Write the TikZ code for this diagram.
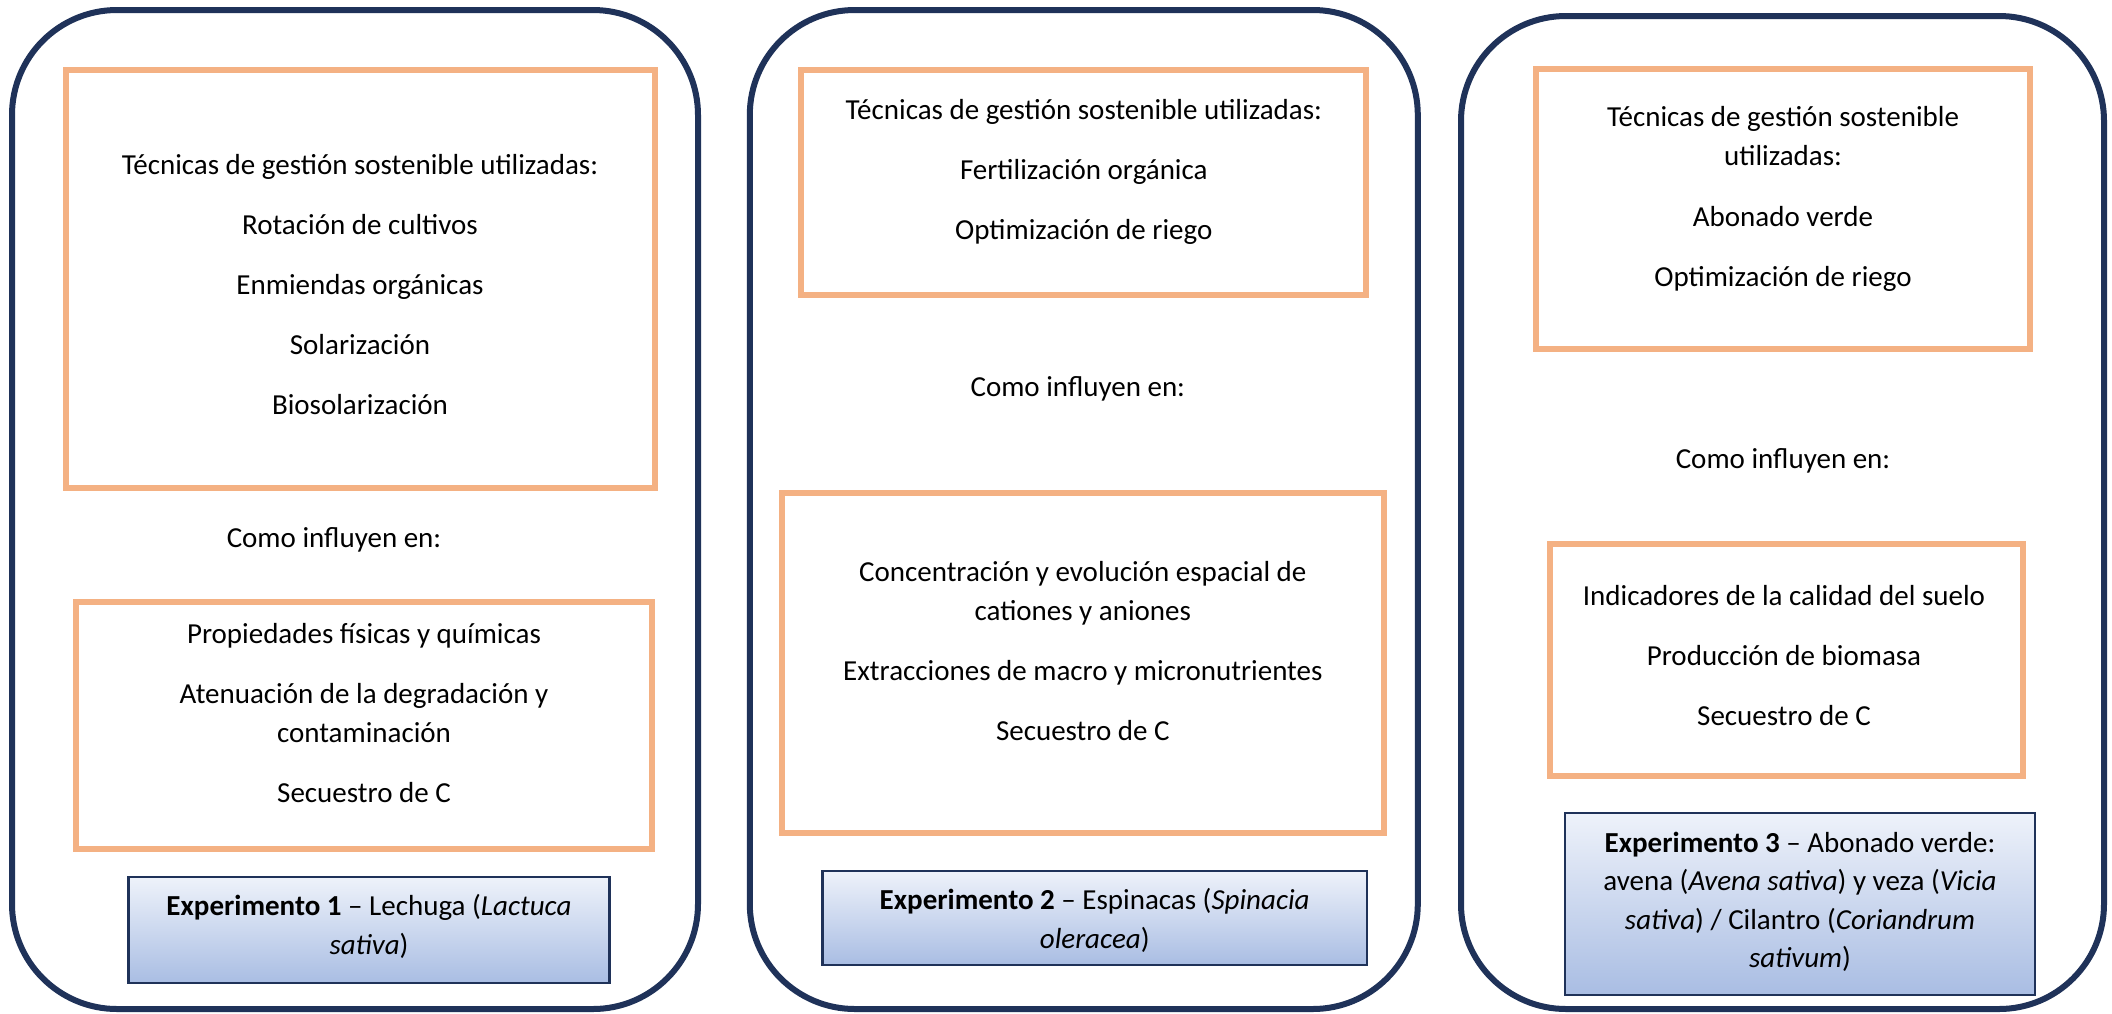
\documentclass[tikz,border=0pt]{standalone}
\usepackage{fontspec}
\setmainfont{Carlito}
\definecolor{navy}{HTML}{1F3259}
\definecolor{peach}{HTML}{F4B183}
\definecolor{bluetop}{HTML}{EEF2FA}
\definecolor{bluebot}{HTML}{A9BDE3}
\begin{document}
\begin{tikzpicture}[x=1pt,y=-1pt,
  panel/.style={draw=navy, line width=6pt, rounded corners=105pt, inner sep=0pt},
  obox/.style={draw=peach, line width=6pt, inner sep=0pt},
  bbox/.style={draw=navy, line width=2.5pt, inner sep=0pt, top color=bluetop, bottom color=bluebot},
  txt/.style={anchor=base, inner sep=0pt, font=\fontsize{29}{38}\selectfont}]
\fill[white] (0,0) rectangle (2112,1013);
\useasboundingbox (0,0) rectangle (2112,1013);

% panels
\node[panel, minimum width=686pt, minimum height=999pt] (p1) at (355,509.5) {};
\node[panel, minimum width=668pt, minimum height=999pt] (p2) at (1083.8,509.5) {};
\node[panel, minimum width=643pt, minimum height=993pt] (p3) at (1782.5,512.5) {};

% orange boxes
\node[obox, minimum width=589.4pt, minimum height=418pt] (o1a) at (360.3,279) {};
\node[obox, minimum width=576.5pt, minimum height=247pt] (o1b) at (363.8,725.5) {};
\node[obox, minimum width=565.6pt, minimum height=225pt] (o2a) at (1083.3,182.5) {};
\node[obox, minimum width=602.4pt, minimum height=340pt] (o2b) at (1082.8,663) {};
\node[obox, minimum width=494pt, minimum height=280pt] (o3a) at (1783,209) {};
\node[obox, minimum width=473pt, minimum height=232pt] (o3b) at (1786.5,660) {};

% blue boxes
\node[bbox, minimum width=481pt, minimum height=106pt] (b1) at (368.8,930) {};
\node[bbox, minimum width=544.7pt, minimum height=94pt] (b2) at (1094.7,918) {};
\node[bbox, minimum width=470pt, minimum height=182pt] (b3) at (1800,904) {};

% panel 1 texts
\node[txt] (t1a1) at (360,174) {Técnicas de gestión sostenible utilizadas:};
\node[txt] (t1a2) at (360,234) {Rotación de cultivos};
\node[txt] (t1a3) at (360,294) {Enmiendas orgánicas};
\node[txt] (t1a4) at (360,354) {Solarización};
\node[txt] (t1a5) at (360,414) {Biosolarización};
\node[txt] (c1) at (334,547) {Como influyen en:};
\node[txt] (t1b1) at (364,643) {Propiedades físicas y químicas};
\node[txt] (t1b2) at (364,703) {Atenuación de la degradación y};
\node[txt] (t1b3) at (364,742) {contaminación};
\node[txt] (t1b4) at (364,802) {Secuestro de C};
\node[txt] (e1a) at (369,915) {\textbf{Experimento 1} – Lechuga (\textit{Lactuca}};
\node[txt] (e1b) at (369,954) {\textit{sativa})};

% panel 2 texts
\node[txt] (t2a1) at (1083.8,119) {Técnicas de gestión sostenible utilizadas:};
\node[txt] (t2a2) at (1083.8,179) {Fertilización orgánica};
\node[txt] (t2a3) at (1083.8,239) {Optimización de riego};
\node[txt] (c2) at (1077.8,396) {Como influyen en:};
\node[txt] (t2b1) at (1082.8,581) {Concentración y evolución espacial de};
\node[txt] (t2b2) at (1082.8,620) {cationes y aniones};
\node[txt] (t2b3) at (1082.8,680) {Extracciones de macro y micronutrientes};
\node[txt] (t2b4) at (1082.8,740) {Secuestro de C};
\node[txt] (e2a) at (1094.7,909) {\textbf{Experimento 2} – Espinacas (\textit{Spinacia}};
\node[txt] (e2b) at (1094.7,948) {\textit{oleracea})};

% panel 3 texts
\node[txt] (t3a1) at (1783,126) {Técnicas de gestión sostenible};
\node[txt] (t3a2) at (1783,165) {utilizadas:};
\node[txt] (t3a3) at (1783,226) {Abonado verde};
\node[txt] (t3a4) at (1783,286) {Optimización de riego};
\node[txt] (c3) at (1783,468) {Como influyen en:};
\node[txt] (t3b1) at (1784,605) {Indicadores de la calidad del suelo};
\node[txt] (t3b2) at (1784,665) {Producción de biomasa};
\node[txt] (t3b3) at (1784,725) {Secuestro de C};
\node[txt] (e3a) at (1800,852) {\textbf{Experimento 3} – Abonado verde:};
\node[txt] (e3b) at (1800,890) {avena (\textit{Avena sativa}) y veza (\textit{Vicia}};
\node[txt] (e3c) at (1800,929) {\textit{sativa}) / Cilantro (\textit{Coriandrum}};
\node[txt] (e3d) at (1800,967) {\textit{sativum})};
\end{tikzpicture}
\end{document}
